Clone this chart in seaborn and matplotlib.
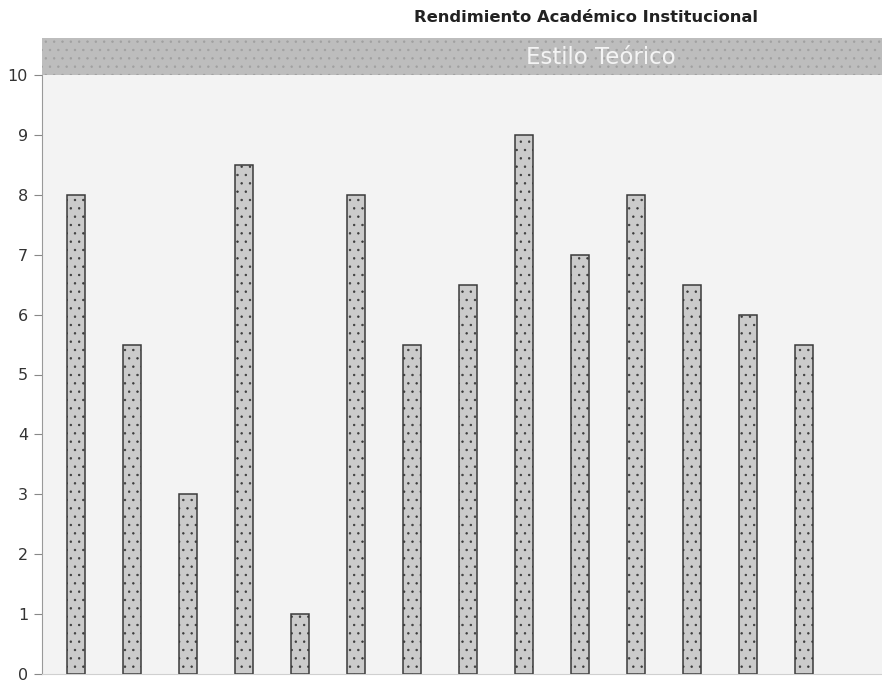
import matplotlib.pyplot as plt
import pandas as pd
import seaborn as sns

# datos
estudiantes = [str(i) for i in range(1, 15)]
notas = [8, 5.5, 3, 8.5, 1, 8, 5.5, 6.5, 9, 7, 8, 6.5, 6, 5.5]

df = pd.DataFrame({'Estudiante': estudiantes, 'Nota': notas})

sns.set_style('white')
plt.rcParams['font.family'] = ['DejaVu Sans']
plt.rcParams['hatch.color'] = '#8a8a8a'
plt.rcParams['hatch.linewidth'] = 0.5

fig = plt.figure(figsize=(8.82, 6.83), dpi=100)
ax = fig.add_axes([42 / 882, 9 / 683, 1 - 42 / 882, (674 - 75) / 683])
ax.set_facecolor('#f3f3f3')

sns.barplot(data=df, x='Estudiante', y='Nota', color='#cbcbcb', width=0.32,
            edgecolor='#3a3a3a', linewidth=1.1, saturation=1, ax=ax)
for p in ax.patches:
    p.set_hatch('..')

ax.set_xlim(-0.607, 14.39)
ax.set_ylim(0, 10)
ax.set_yticks(range(0, 11))
ax.set_xticks([])
ax.set_xlabel('')
ax.set_ylabel('')
ax.tick_params(axis='y', length=6, width=0.8, color='#888888', labelsize=11.5,
               labelcolor='#333333', left=True, pad=4)
for s in ['top', 'right']:
    ax.spines[s].set_visible(False)
ax.spines['left'].set_color('#999999')
ax.spines['bottom'].set_color('#d0d0d0')

# franja superior
strip = fig.add_axes([42 / 882, (683 - 75) / 683, 1 - 42 / 882, 37 / 683])
strip.set_facecolor('#bdbdbd')
strip.patch.set_hatch('..')
strip.patch.set_edgecolor('#a0a0a0')
strip.set_xticks([])
strip.set_yticks([])
for s in strip.spines.values():
    s.set_visible(False)
fig.text(601 / 882, (683 - 57) / 683, 'Estilo Teórico', color='#f4f4f4',
         fontsize=16.5, ha='center', va='center')

fig.text(586 / 882, (683 - 18) / 683, 'Rendimiento Académico Institucional',
         fontsize=11.8, fontweight='bold', color='#222222', ha='center', va='center')

plt.savefig('out.png', dpi=100)
